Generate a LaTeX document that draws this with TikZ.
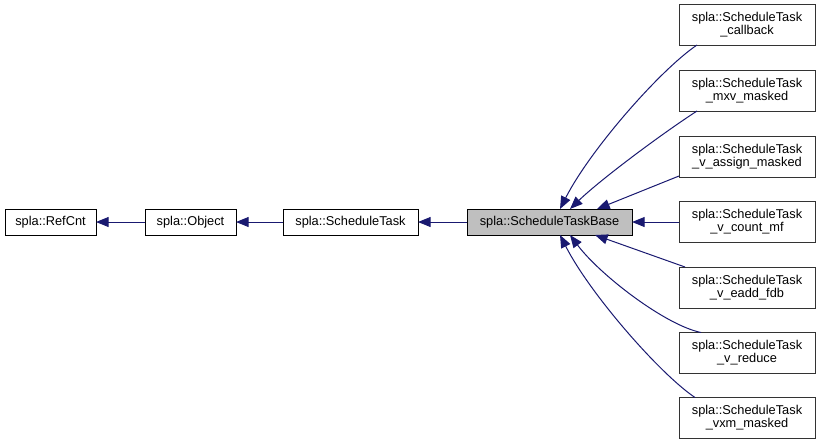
\documentclass[tikz,border=0pt]{standalone}
\usepackage{fontspec}
\setmainfont{Liberation Sans}
\usetikzlibrary{arrows.meta,calc}
\definecolor{edgecol}{HTML}{191970}
\definecolor{basefill}{HTML}{BFBFBF}
\begin{document}
\begin{tikzpicture}[x=0.75pt,y=-0.75pt,
  box/.style={draw=black,line width=0.75pt,inner sep=0pt,outer sep=0pt,minimum height=19.5pt,
    font=\fontsize{9.6}{9.8}\selectfont,align=center,text=black},
  rbox/.style={box,minimum width=102pt,minimum height=30.75pt,draw=black!80},
  arr/.style={draw=edgecol,line width=0.75pt,-{Triangle[length=9.5pt,width=7.5pt]}}]
\useasboundingbox (0,0) rectangle (820,444);
\node[box,minimum width=68.25pt] (refcnt) at (50.5,222) {spla::RefCnt};
\node[box,minimum width=68.25pt] (object) at (190.5,222) {spla::Object};
\node[box,minimum width=101.25pt] (task) at (350.5,222) {spla::ScheduleTask};
\node[box,minimum width=123.75pt,fill=basefill] (base) at (549.5,222) {spla::ScheduleTaskBase};
\node[rbox] (cb) at (747,24.5) {spla::ScheduleTask\\\_callback};
\node[rbox] (mxv) at (747,90.5) {spla::ScheduleTask\\\_mxv\_masked};
\node[rbox] (va) at (747,157) {spla::ScheduleTask\\\_v\_assign\_masked};
\node[rbox] (cm) at (747,222) {spla::ScheduleTask\\\_v\_count\_mf};
\node[rbox] (ea) at (747,287.5) {spla::ScheduleTask\\\_v\_eadd\_fdb};
\node[rbox] (rd) at (747,353) {spla::ScheduleTask\\\_v\_reduce};
\node[rbox] (vx) at (747,418) {spla::ScheduleTask\\\_vxm\_masked};
\draw[arr] (object) -- (refcnt);
\draw[arr] (task) -- (object);
\draw[arr] (base) -- (task);
\draw[arr] ($(cb.south west)+(18,0)$) .. controls (660,70) and (590,150) .. ($(base.north west)+(93,0)$);
\draw[arr] ($(mxv.south west)+(18,0)$) .. controls (660,135) and (600,180) .. ($(base.north west)+(103,0)$);
\draw[arr] ($(va.west)+(0,19)$) -- ($(base.north west)+(130,0)$);
\draw[arr] (cm) -- (base);
\draw[arr] ($(ea.north west)+(6,0)$) -- ($(base.south west)+(128,0)$);
\draw[arr] ($(rd.north west)+(22,0)$) .. controls (665,325) and (600,275) .. ($(base.south west)+(103,0)$);
\draw[arr] ($(vx.north west)+(16,0)$) .. controls (660,374) and (590,294) .. ($(base.south west)+(93,0)$);
\end{tikzpicture}
\end{document}
